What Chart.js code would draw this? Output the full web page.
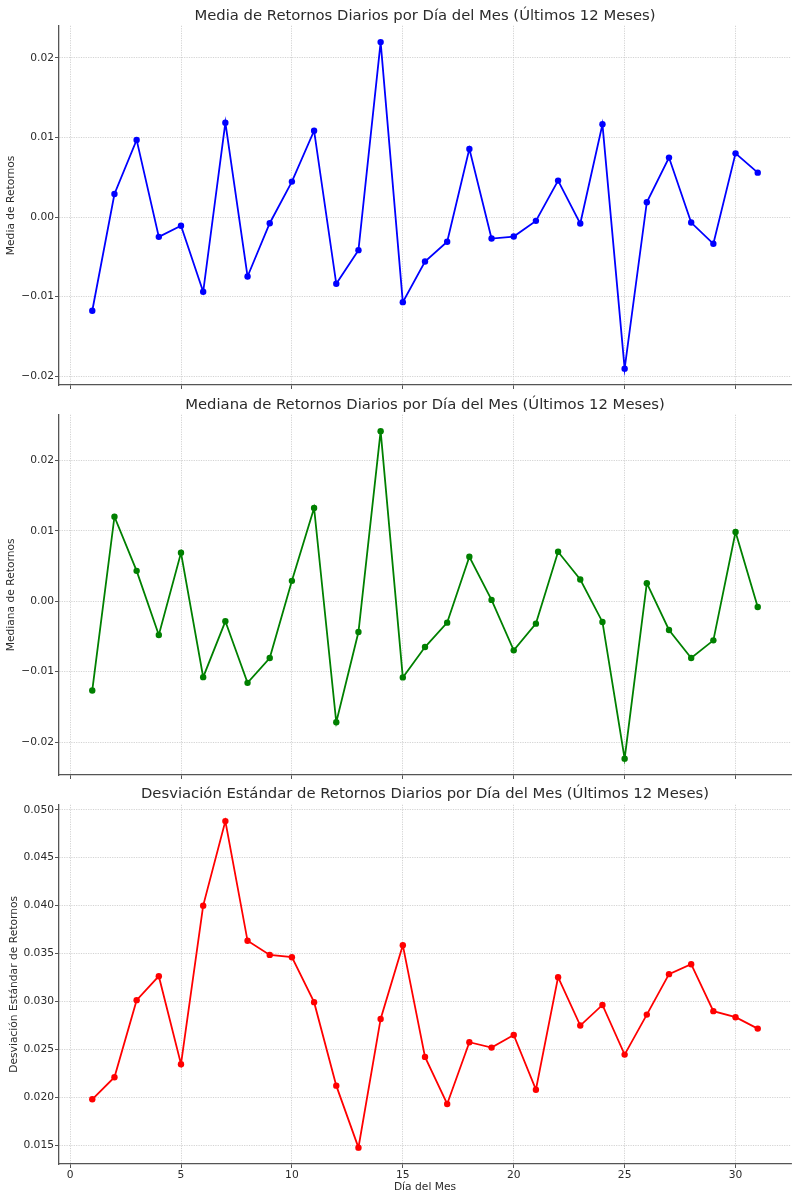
<!DOCTYPE html>
<html><head><meta charset="utf-8">
<script src="https://cdn.jsdelivr.net/npm/chart.js@4.4.1/dist/chart.umd.min.js"></script>
<style>
html,body{margin:0;padding:0;background:#fff;width:797px;height:1200px;overflow:hidden;position:relative}
canvas{position:absolute;left:0}
</style></head><body>
<canvas id="c1" style="top:0px" width="797" height="395"></canvas>
<canvas id="c2" style="top:395px" width="797" height="395"></canvas>
<canvas id="c3" style="top:780px" width="797" height="420"></canvas>
<script>
const days = [1,2,3,4,5,6,7,8,9,10,11,12,13,14,15,16,17,18,19,20,21,22,23,24,25,26,27,28,29,30,31];
const mediaValues = [-0.01177,0.0029,0.00969,-0.00249,-0.0011,-0.00939,0.01186,-0.00747,-0.00078,0.00445,0.01085,-0.00839,-0.00416,0.02198,-0.01069,-0.00558,-0.00311,0.00856,-0.0027,-0.00245,-0.00048,0.00458,-0.00082,0.01165,-0.01905,0.00186,0.00747,-0.00069,-0.00336,0.008,0.00558];
const medianaValues = [-0.01266,0.012,0.00431,-0.0048,0.00687,-0.01077,-0.00285,-0.01158,-0.00806,0.00289,0.01323,-0.01717,-0.00437,0.02413,-0.01081,-0.0065,-0.00304,0.0063,0.00019,-0.00697,-0.00318,0.00701,0.00308,-0.00294,-0.02233,0.00256,-0.00408,-0.00806,-0.00555,0.00981,-0.00081];
const stdValues = [0.0198,0.0221,0.03014,0.03264,0.02346,0.04,0.04882,0.03633,0.03486,0.03462,0.02993,0.02122,0.01475,0.02818,0.03588,0.02422,0.01931,0.02575,0.02519,0.02651,0.0208,0.03254,0.02749,0.02964,0.02446,0.02863,0.03285,0.03389,0.02899,0.02836,0.02717];
const xTicks = [0,5,10,15,20,25,30];
const retornoTicks = [-0.02,-0.01,0,0.01,0.02];
const stdTicks = [0.015,0.02,0.025,0.03,0.035,0.04,0.045,0.05];
const chartTitles = [
  'Media de Retornos Diarios por Día del Mes (Últimos 12 Meses)',
  'Mediana de Retornos Diarios por Día del Mes (Últimos 12 Meses)',
  'Desviación Estándar de Retornos Diarios por Día del Mes (Últimos 12 Meses)'
];
const yLabels = ['Media de Retornos','Mediana de Retornos','Desviación Estándar de Retornos'];
const xLabel = 'Día del Mes';

const FONT = "'DejaVu Sans', sans-serif";
const TXT = '#2b2b2b';
const SPINE = '#555555';
const GRID = '#c8c8c8';

function fmt(v, dec){
  const s = Math.abs(v).toFixed(dec);
  return (v < -1e-12 ? '\u2212' : '') + s;
}

// draws the chart title centred over the plotting area (like matplotlib)
const centredTitle = {
  id: 'centredTitle',
  afterDraw(chart, args, opts) {
    const ca = chart.chartArea, ctx = chart.ctx;
    ctx.save();
    ctx.fillStyle = TXT;
    ctx.font = '14.8px ' + FONT;
    ctx.textAlign = 'center';
    ctx.textBaseline = 'middle';
    ctx.fillText(opts.text, (ca.left + ca.right) / 2, opts.y);
    ctx.restore();
  }
};

function make(id, values, color, title, yLabel, yTicks, dec, o){
  const lo = Math.min(...values), hi = Math.max(...values), m = (hi-lo)*0.05;
  new Chart(document.getElementById(id), {
    type: 'line',
    plugins: [centredTitle],
    data: { datasets: [{
      data: days.map((d,i)=>({x:d, y:values[i]})),
      borderColor: color, backgroundColor: color,
      borderWidth: 1.8, pointRadius: 3.2, pointBorderWidth: 0,
      pointBackgroundColor: color, tension: 0, fill: false
    }]},
    options: {
      responsive: false, animation: false, devicePixelRatio: 1,
      layout: { padding: { left: 0, right: 6, top: 0, bottom: 0 } },
      plugins: {
        legend: { display: false }, tooltip: { enabled: false },
        title: { display: true, text: title, color: 'rgba(0,0,0,0)',
          font: { family: FONT, size: 14.8, weight: 'normal' }, lineHeight: 1.2,
          padding: { top: o.tTop, bottom: o.tBot } },
        centredTitle: { text: title, y: o.tY }
      },
      scales: {
        x: {
          type: 'linear', min: -0.5, max: 32.5,
          afterBuildTicks: s => { s.ticks = xTicks.map(v=>({value:v})); },
          afterFit: s => { s.height = o.xH; },
          grid: { color: GRID, lineWidth: 0.8, drawTicks: true, tickLength: 4, tickColor: SPINE, tickWidth: 1 },
          border: { display: true, color: SPINE, width: 1.3, dash: [1.2,1.2] },
          ticks: { display: o.showX, color: TXT, padding: 1, maxRotation: 0,
            font: { family: FONT, size: 10.7 }, callback: v => String(v) },
          title: { display: o.showX, text: xLabel, color: TXT,
            font: { family: FONT, size: 10.7 }, padding: { top: 0, bottom: 6.3 } }
        },
        y: {
          type: 'linear', min: lo - m, max: hi + m,
          afterBuildTicks: s => { s.ticks = yTicks.map(v=>({value:v})); },
          afterFit: s => { s.width = 59; },
          grid: { color: GRID, lineWidth: 0.8, drawTicks: true, tickLength: 4, tickColor: SPINE, tickWidth: 1 },
          border: { display: true, color: SPINE, width: 1.3, dash: [1.2,1.2] },
          ticks: { color: TXT, padding: 1, font: { family: FONT, size: 10.7 },
            callback: v => fmt(v, dec) },
          title: { display: true, text: yLabel, color: TXT,
            font: { family: FONT, size: 10.7 }, padding: { top: o.yPad, bottom: 0 } }
        }
      }
    }
  });
}

make('c1', mediaValues, '#0000ff', chartTitles[0], yLabels[0], retornoTicks, 2,
  { tTop: 7, tBot: 1, xH: 10, showX: false, yPad: 5, tY: 16 });
make('c2', medianaValues, '#008000', chartTitles[1], yLabels[1], retornoTicks, 2,
  { tTop: 1, tBot: 1, xH: 15, showX: false, yPad: 5, tY: 10 });
make('c3', stdValues, '#ff0000', chartTitles[2], yLabels[2], stdTicks, 3,
  { tTop: 5, tBot: 2, xH: 36, showX: true, yPad: 7.5, tY: 14 });
</script>
</body></html>
